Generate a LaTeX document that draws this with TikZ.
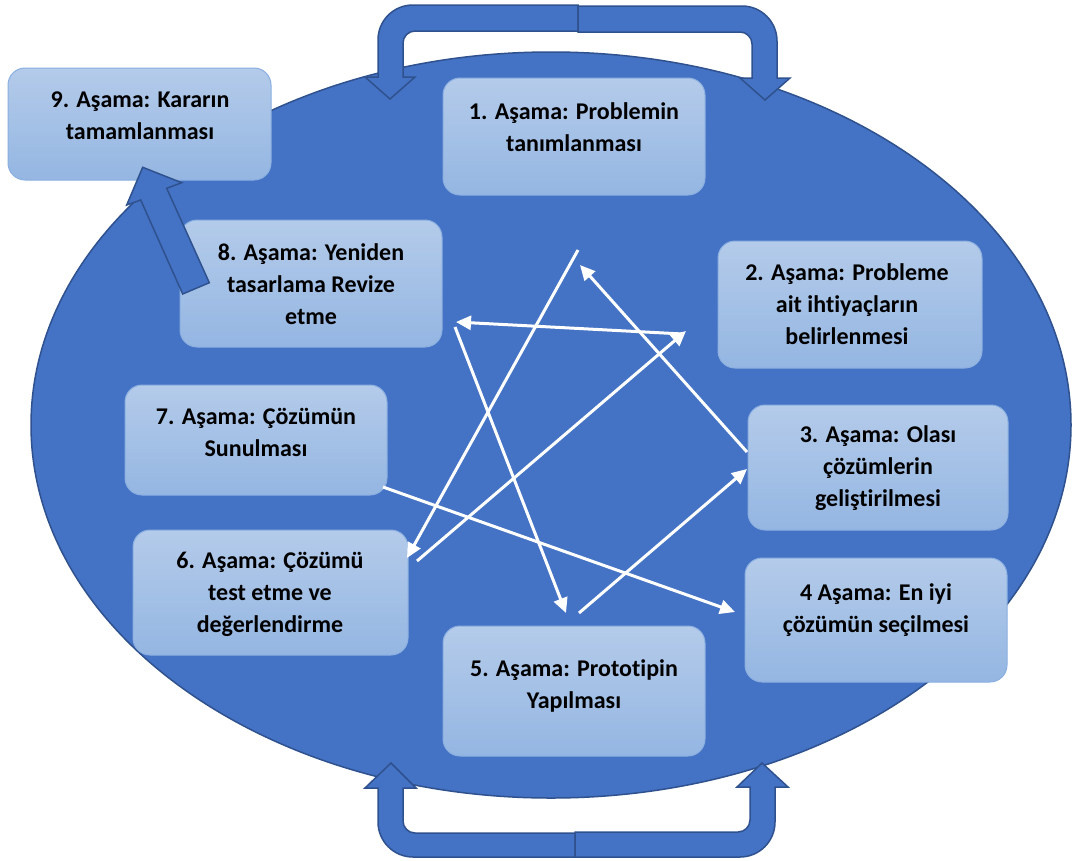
\documentclass[tikz,border=0pt]{standalone}
\usepackage{fontspec}
\setmainfont[Ligatures=NoCommon]{Carlito}
\usetikzlibrary{arrows.meta}
\definecolor{fillblue}{HTML}{4472C4}
\definecolor{edgeblue}{HTML}{2F528F}
\definecolor{boxtop}{HTML}{B4CBEA}
\definecolor{boxbot}{HTML}{94B6E2}
\definecolor{boxedge}{HTML}{8AAFE0}
\tikzset{
  stage/.style={rectangle, rounded corners=17pt, top color=boxtop, bottom color=boxbot,
    draw=boxedge, line width=1pt, inner sep=0pt},
  stagetext/.style={align=center, inner sep=0pt,
    font=\fontsize{24}{32}\selectfont\bfseries},
  bigarrow/.style={fill=fillblue, draw=edgeblue, line width=1.5pt, line join=miter},
  flow/.style={white, line width=3pt, -{Triangle[length=15pt,width=14pt]}},
  flowline/.style={white, line width=3pt}
}
\begin{document}
\begin{tikzpicture}[x=1pt,y=-1pt]
\useasboundingbox[fill=white] (0,0) rectangle (1073,860);

% central ellipse
\draw[fill=fillblue, draw=edgeblue, line width=1.5pt] (551,425) ellipse [x radius=520, y radius=373];

% bent arrows above the ellipse
\draw[bigarrow] (578,5) -- (413,5) .. controls (393.7,5) and (378,20.3) .. (378,40)
  -- (378,77) -- (365,77) -- (390,99) -- (415,77) -- (403,77) -- (403,43)
  .. controls (403,36.4) and (408.4,31) .. (415,31) -- (578,31) -- cycle;
\draw[bigarrow] (578,6) -- (742,6) .. controls (761.3,6) and (777,21.7) .. (777,41)
  -- (777,78) -- (790,78) -- (765,100) -- (740,78) -- (752,78) -- (752,44)
  .. controls (752,37.4) and (746.6,32) .. (740,32) -- (578,32) -- cycle;

% bent arrows below the ellipse
\draw[bigarrow] (575,857) -- (413,857) .. controls (393.7,857) and (378,841.3) .. (378,822)
  -- (378,788) -- (365,788) -- (391,763) -- (416,788) -- (403,788) -- (403,821)
  .. controls (403,827.6) and (408.4,833) .. (415,833) -- (575,833) -- cycle;
\draw[bigarrow] (575,857) -- (740,857) .. controls (759.3,857) and (775,841.3) .. (775,822)
  -- (775,787) -- (788,787) -- (762,763) -- (737,787) -- (750,787) -- (750,820)
  .. controls (750,826.6) and (744.6,832) .. (738,832) -- (575,832) -- cycle;

% stage boxes
\node[stage, minimum width=263pt, minimum height=112pt] (s9) at (139.5,124) {};
\node[stage, minimum width=262pt, minimum height=117pt] (s1) at (574,136.5) {};
\node[stage, minimum width=264pt, minimum height=127pt] (s2) at (850,304.5) {};
\node[stage, minimum width=260pt, minimum height=125pt] (s3) at (878,467.5) {};
\node[stage, minimum width=262pt, minimum height=124pt] (s4) at (876,620) {};
\node[stage, minimum width=262pt, minimum height=130pt] (s5) at (574,691) {};
\node[stage, minimum width=275pt, minimum height=125pt] (s6) at (270.5,592.5) {};
\node[stage, minimum width=262pt, minimum height=110pt] (s7) at (256,440) {};
\node[stage, minimum width=262pt, minimum height=127pt] (s8) at (311,283.5) {};

\node[stagetext] (t9) at (140,116) {9. Aşama: Kararın\\tamamlanması};
\node[stagetext] (t1) at (574,127) {1. Aşama: Problemin\\tanımlanması};
\node[stagetext] (t2) at (847,304) {2. Aşama: Probleme\\ait ihtiyaçların\\belirlenmesi};
\node[stagetext] (t3) at (878,468) {3. Aşama: Olası\\çözümlerin\\geliştirilmesi};
\node[stagetext] (t4) at (876,610) {4 Aşama: En iyi\\çözümün seçilmesi};
\node[stagetext] (t5) at (574,686) {5. Aşama: Prototipin\\Yapılması};
\node[stagetext] (t6) at (270,594) {6. Aşama: Çözümü\\test etme ve\\değerlendirme};
\node[stagetext] (t7) at (256,432) {7. Aşama: Çözümün\\Sunulması};
\node[stagetext] (t8) at (311,284) {8. Aşama: Yeniden\\tasarlama Revize\\etme};

% end points of the white connectors
\coordinate (a0) at (578,250);
\coordinate (a1) at (407,558);
\coordinate (b0) at (417,561);
\coordinate (b1) at (686,331);
\coordinate (c0) at (683,334);
\coordinate (c1) at (456,322);
\coordinate (d0) at (455,327);
\coordinate (d1) at (566,613);
\coordinate (e0) at (579,613);
\coordinate (e1) at (747,469);
\coordinate (f0) at (747,452);
\coordinate (f1) at (580,265);
\coordinate (g0) at (383,487);
\coordinate (g1) at (735,612);

\draw[flow] (a0) -- (a1);
\draw[flow] (b0) -- (b1);
\draw[flow] (c0) -- (c1);
\draw[flow] (d0) -- (d1);
\draw[flow] (e0) -- (e1);
\draw[flow] (f0) -- (f1);
\draw[flow] (g0) -- (g1);

% block arrow from stage 8 up to stage 9
\draw[bigarrow] (182.7,294) -- (140.7,200) -- (126.7,205) -- (142.7,167.3)
  -- (181.7,182.7) -- (166.7,188.3) -- (209.3,282.7) -- cycle;
\end{tikzpicture}
\end{document}
